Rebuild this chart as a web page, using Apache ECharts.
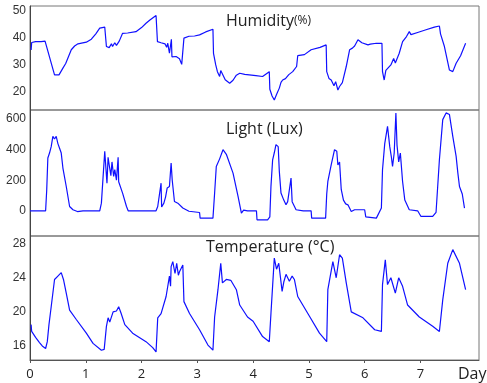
<!DOCTYPE html>
<html>
<head>
<meta charset="utf-8">
<script src="https://cdn.jsdelivr.net/npm/echarts@6/dist/echarts.min.js"></script>
<style>
  html, body { margin: 0; padding: 0; background: #fff; }
  #chart { width: 487px; height: 383px; }
</style>
</head>
<body>
<div id="chart"></div>
<script>
// [day, value] readings
const humidity = [
  [0.02, 35.5], [0.03, 38.3], [0.1, 38.6], [0.2, 38.6], [0.27, 38.8], [0.3, 38.3], [0.44, 26.3], [0.47, 26.5],
  [0.52, 26.3], [0.55, 26.4], [0.59, 28.8], [0.64, 30.5], [0.74, 35.6], [0.8, 37], [0.86, 37.8], [1.01, 38.4],
  [1.1, 39.5], [1.18, 41.5], [1.25, 43.6], [1.34, 44], [1.36, 43.8], [1.37, 36.8], [1.4, 37.5], [1.42, 36.4],
  [1.46, 37.8], [1.48, 36.8], [1.52, 38.2], [1.55, 37.2], [1.6, 38.8], [1.62, 38.5], [1.66, 41.7], [1.75, 41.8],
  [1.9, 42.3], [2.0, 43.8], [2.08, 45.4], [2.15, 46.6], [2.26, 48.3], [2.28, 48.5], [2.285, 38.6], [2.35, 38.2],
  [2.42, 37.8], [2.45, 36.5], [2.47, 38], [2.5, 34.3], [2.52, 34.5], [2.535, 39.5], [2.545, 33], [2.58, 33.5],
  [2.62, 33.1], [2.64, 32.5], [2.68, 32.3], [2.72, 30.2], [2.74, 29.6], [2.755, 30.2], [2.76, 39.9], [2.78, 40.4],
  [2.85, 40.6], [2.95, 40.7], [3.04, 41.1], [3.15, 42.2], [3.28, 43.2], [3.29, 34.3], [3.33, 30], [3.36, 27.5],
  [3.4, 25.7], [3.42, 27.9], [3.45, 27.2], [3.5, 24.5], [3.58, 23.2], [3.64, 24.3], [3.7, 26.2], [3.76, 26.9],
  [3.85, 26.5], [3.93, 26.3], [4.05, 26], [4.17, 25.7], [4.29, 27.5], [4.3, 21], [4.34, 18.5], [4.38, 17],
  [4.42, 19], [4.47, 21.4], [4.5, 23.5], [4.53, 24.4], [4.58, 24.9], [4.64, 26.4], [4.71, 27.5], [4.78, 29.4],
  [4.8, 33.4], [4.83, 33.7], [4.92, 33.8], [5.04, 35.6], [5.2, 36.5], [5.31, 37.4], [5.32, 27.5], [5.36, 25],
  [5.4, 24.4], [5.45, 22.3], [5.48, 23.8], [5.52, 20.7], [5.55, 22], [5.6, 23.4], [5.67, 29.4], [5.73, 35.6],
  [5.78, 36.2], [5.82, 37], [5.85, 37.5], [5.88, 39.3], [5.95, 38.2], [6.06, 37.4], [6.1, 37.7], [6.21, 38],
  [6.31, 38], [6.32, 27.5], [6.35, 24.4], [6.38, 28], [6.47, 30], [6.52, 32.4], [6.55, 30.7], [6.62, 34.3],
  [6.68, 38.6], [6.75, 40.5], [6.8, 42.3], [6.83, 41.2], [6.95, 42], [7.1, 43], [7.25, 44], [7.34, 44.4],
  [7.36, 41.5], [7.43, 36.8], [7.52, 28.1], [7.58, 27.5], [7.64, 30.6], [7.72, 33.4], [7.81, 38]
];

const light = [
  [0, 0], [0.28, 0], [0.3, 138], [0.32, 346], [0.35, 378], [0.38, 420], [0.41, 487], [0.44, 470], [0.47, 487],
  [0.5, 440], [0.53, 410], [0.56, 378], [0.59, 280], [0.65, 159], [0.71, 28], [0.77, 7], [0.85, -5], [0.95, 0],
  [1.25, 0], [1.28, 50], [1.34, 389], [1.36, 400], [1.38, 180], [1.4, 350], [1.42, 300], [1.45, 230], [1.47, 320],
  [1.5, 225], [1.52, 270], [1.55, 200], [1.58, 350], [1.59, 190], [1.66, 116], [1.73, 28], [1.76, 0], [2.26, 0],
  [2.29, 28], [2.32, 15], [2.35, 181], [2.36, 25], [2.4, 50], [2.43, 90], [2.46, 150], [2.5, 159], [2.53, 313],
  [2.55, 200], [2.59, 61], [2.65, 50], [2.74, 18], [2.85, -3], [3.04, -11], [3.05, -48], [3.28, -48], [3.31, 116],
  [3.34, 290], [3.4, 340], [3.46, 400], [3.52, 370], [3.64, 247], [3.73, 94], [3.79, -15], [3.83, 5], [3.9, 0],
  [4.06, 0], [4.07, -59], [4.26, -59], [4.3, -40], [4.32, 159], [4.35, 334], [4.38, 380], [4.41, 433], [4.45, 420],
  [4.47, 258], [4.5, 116], [4.55, 70], [4.59, 39], [4.62, 60], [4.68, 214], [4.7, 60], [4.77, 7], [4.9, 0],
  [5.04, 0], [5.05, -48], [5.3, -48], [5.32, 110], [5.34, 192], [5.4, 300], [5.46, 400], [5.5, 390], [5.52, 300],
  [5.55, 320], [5.58, 140], [5.62, 70], [5.66, 45], [5.7, 39], [5.76, -5], [5.82, 7], [6.0, 7], [6.02, -40],
  [6.21, -48], [6.3, 18], [6.32, 269], [6.36, 440], [6.41, 553], [6.45, 420], [6.48, 350], [6.5, 290], [6.53, 380],
  [6.56, 641], [6.58, 430], [6.61, 320], [6.64, 378], [6.68, 192], [6.72, 70], [6.8, 7], [6.95, 0], [7.01, -37],
  [7.22, -37], [7.28, -10], [7.34, 334], [7.4, 597], [7.46, 641], [7.52, 630], [7.58, 487], [7.64, 356],
  [7.67, 250], [7.7, 159], [7.75, 110], [7.79, 18]
];

const temperature = [
  [0.02, 18.5], [0.03, 17.7], [0.1, 17], [0.17, 16.4], [0.22, 16], [0.28, 15.7], [0.31, 16.5], [0.34, 18.5],
  [0.38, 20.6], [0.44, 23.8], [0.5, 24.2], [0.56, 24.6], [0.6, 23.8], [0.65, 22.2], [0.71, 20.2], [0.83, 19.1],
  [1.01, 17.5], [1.13, 16.3], [1.28, 15.5], [1.33, 15.6], [1.37, 18.3], [1.4, 19.3], [1.43, 18.8], [1.49, 20.0],
  [1.55, 20.1], [1.59, 20.6], [1.63, 19.9], [1.7, 18.5], [1.84, 17.5], [2.08, 16.5], [2.2, 15.8], [2.26, 15.3],
  [2.29, 19.3], [2.35, 19.8], [2.44, 21.8], [2.5, 24.2], [2.52, 23], [2.53, 25.3], [2.56, 25.9], [2.6, 24.5],
  [2.63, 25.7], [2.66, 24.3], [2.68, 24.7], [2.74, 25.5], [2.76, 21.2], [2.86, 19.8], [3.04, 17.9], [3.19, 16.1],
  [3.28, 15.5], [3.31, 19.4], [3.37, 22.6], [3.42, 25.7], [3.45, 23.4], [3.52, 23.8], [3.6, 23.7], [3.7, 22.6],
  [3.76, 20.8], [3.9, 19.4], [4.0, 18.9], [4.17, 17.1], [4.29, 16.5], [4.32, 19.8], [4.38, 26.3], [4.42, 25.0],
  [4.46, 25.7], [4.52, 22.4], [4.55, 23.5], [4.59, 24.4], [4.65, 23.6], [4.7, 24.2], [4.74, 23.8], [4.8, 21.8],
  [5.0, 19.6], [5.19, 17.5], [5.32, 16.5], [5.34, 22.6], [5.43, 25.9], [5.49, 24.0], [5.55, 26.7], [5.6, 26.3],
  [5.67, 23.4], [5.76, 20.0], [5.97, 19.3], [6.18, 17.9], [6.3, 17.7], [6.32, 23.2], [6.37, 26.1], [6.41, 23.2],
  [6.47, 24.0], [6.55, 22.2], [6.61, 24.0], [6.68, 23.0], [6.77, 20.8], [6.98, 19.4], [7.22, 18.3], [7.34, 17.7],
  [7.4, 21.4], [7.49, 25.7], [7.58, 27.3], [7.7, 25.7], [7.81, 22.6]
];

const dayTicks = [0, 1, 2, 3, 4, 5, 6, 7];
const humTicks = [20, 30, 40, 50];
const lightTicks = [0, 200, 400, 600];
const tempTicks = [16, 20, 24, 28];

const chart = echarts.init(document.getElementById('chart'), null, { renderer: 'canvas' });

const labelStyle = { color: '#333', fontFamily: 'Liberation Sans', fontSize: 12 };

function xAxisFor(gridIndex, showLabels) {
  return {
    type: 'value', gridIndex: gridIndex, min: 0, max: 8.05,
    axisLine: { show: showLabels, lineStyle: { color: '#555' } },
    axisTick: { show: showLabels, customValues: dayTicks, length: 3, lineStyle: { color: '#555' } },
    axisLabel: { show: showLabels, customValues: dayTicks, margin: 8, color: '#222', fontFamily: 'Open Sans', fontSize: 13 },
    splitLine: { show: false }
  };
}

function yAxisFor(gridIndex, min, max, ticks) {
  return {
    type: 'value', gridIndex: gridIndex, min: min, max: max,
    axisLine: { show: true, lineStyle: { color: '#444' } },
    axisTick: { show: false },
    axisLabel: Object.assign({ customValues: ticks, margin: 4 }, labelStyle),
    splitLine: { show: false }
  };
}

const lineStyle = { color: '#1010ff', width: 1.2 };
const titleFont = { fontFamily: 'Open Sans', fontSize: 16, fontWeight: 'normal', color: '#222' };

chart.setOption({
  animation: false,
  backgroundColor: '#fff',
  title: [
    {
      text: '{a|Humidity}{b|(%)}', left: 221, top: 8,
      textStyle: { fontWeight: 'normal', rich: {
        a: titleFont,
        b: { fontFamily: 'Open Sans', fontSize: 12, fontWeight: 'normal', color: '#222' }
      } }
    },
    { text: 'Light (Lux)', left: 221, top: 116, textStyle: titleFont },
    { text: 'Temperature (°C)', left: 201, top: 234, textStyle: titleFont }
  ],
  grid: [
    { left: 30, top: 6, width: 449, height: 104, show: true, borderColor: '#777', borderWidth: 1 },
    { left: 30, top: 110, width: 449, height: 126, show: true, borderColor: '#777', borderWidth: 1 },
    { left: 30, top: 236, width: 449, height: 124, show: true, borderColor: '#777', borderWidth: 1 }
  ],
  xAxis: [xAxisFor(0, false), xAxisFor(1, false), xAxisFor(2, true)],
  yAxis: [
    yAxisFor(0, 13.3, 51.8, humTicks),
    yAxisFor(1, -165, 660, lightTicks),
    yAxisFor(2, 14.35, 28.9, tempTicks)
  ],
  graphic: [
    { type: 'text', left: 458, top: 366, style: { text: 'Day', fontFamily: 'Open Sans', fontSize: 16, fill: '#222' } }
  ],
  series: [
    { type: 'line', xAxisIndex: 0, yAxisIndex: 0, data: humidity, showSymbol: false, lineStyle: lineStyle },
    { type: 'line', xAxisIndex: 1, yAxisIndex: 1, data: light, showSymbol: false, lineStyle: lineStyle },
    { type: 'line', xAxisIndex: 2, yAxisIndex: 2, data: temperature, showSymbol: false, lineStyle: lineStyle }
  ]
});
</script>
</body>
</html>
